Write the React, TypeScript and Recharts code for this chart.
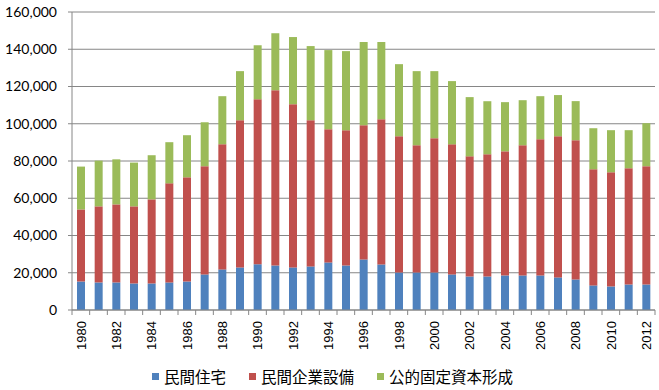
import React from 'react';
import { BarChart, Bar, XAxis, YAxis, CartesianGrid, Legend } from 'recharts';

const years = ['1980','1981','1982','1983','1984','1985','1986','1987','1988','1989','1990','1991','1992','1993','1994','1995','1996','1997','1998','1999','2000','2001','2002','2003','2004','2005','2006','2007','2008','2009','2010','2011','2012'];
const housing = [15300,14800,14800,14250,14250,14800,15300,19100,21800,22850,24500,23900,22850,23400,25550,23900,27150,24450,20150,20150,20150,19100,18000,18000,18550,18550,18550,17500,16400,13200,12650,13700,13700];
const business = [38700,40850,41900,41400,45150,53200,55950,58100,67200,79050,88700,94100,87650,78500,71500,72600,72050,77950,73150,68300,72100,69850,64500,65600,66650,69900,73150,75800,74750,62350,61300,62400,63500];
const publicInv = [23000,24550,24200,23500,23700,22100,22600,23600,25800,26350,29000,30600,36050,39800,42500,42500,44700,41500,38700,39800,36000,33950,31800,28500,26400,24200,23100,22100,21000,22050,22600,20450,23100];
const yTicks = [0,20000,40000,60000,80000,100000,120000,140000,160000];

const names = ['民間住宅','民間企業設備','公的固定資本形成'];
const colors = ['#4F81BD','#C0504D','#9BBB59'];

const data = years.map((y, i) => ({ year: y, a: housing[i], b: business[i], c: publicInv[i] }));

const XTick = (props: any) => {
  const { x, y, payload, index } = props;
  const off = payload.offset || 0;
  const show = parseInt(payload.value, 10) % 2 === 0;
  return (
    <g>
      <line x1={x - off} y1={y} x2={x - off} y2={y + 5} stroke="#868686" />
      {index === years.length - 1 && <line x1={x + off} y1={y} x2={x + off} y2={y + 5} stroke="#868686" />}
      {show && (
        <text transform={`translate(${x},${y + 11}) rotate(-90)`} textAnchor="end" dy="0.36em" fontSize={13} fill="#000" fontFamily="Liberation Sans">
          {payload.value}
        </text>
      )}
    </g>
  );
};

const LegendContent = () => (
  <div style={{ display: 'flex', justifyContent: 'center', alignItems: 'center', height: 24, paddingLeft: 10, fontFamily: '"Noto Sans CJK JP"', fontSize: 15.5, color: '#000' }}>
    {names.map((n, i) => (
      <div key={n} style={{ display: 'flex', alignItems: 'center', marginLeft: i === 0 ? 0 : 23 }}>
        <span style={{ width: 7, height: 7, background: colors[i], display: 'inline-block', marginRight: 5 }} />
        <span style={{ lineHeight: '24px' }}>{n}</span>
      </div>
    ))}
  </div>
);

export default function App() {
  return (
    <div style={{ position: 'absolute', left: 0, top: 0, background: '#fff' }}>
      <BarChart width={659} height={390} data={data} margin={{ top: 12, right: 4, bottom: 2, left: 0 }} barSize={8}>
        <CartesianGrid vertical={false} stroke="#868686" />
        <XAxis dataKey="year" interval={0} height={54} tickSize={0} tickMargin={0} tickLine={false} stroke="#868686" tick={<XTick />} />
        <YAxis width={72} domain={[0, 160000]} ticks={yTicks} tickSize={4} tickMargin={11} stroke="#868686"
          tick={{ fill: '#000', fontSize: 14, fontFamily: 'Lato' }}
          tickFormatter={(v: number) => v.toLocaleString('en-US')} />
        <Legend verticalAlign="bottom" content={<LegendContent />} />
        <Bar dataKey="a" name={names[0]} stackId="s" fill={colors[0]} isAnimationActive={false} />
        <Bar dataKey="b" name={names[1]} stackId="s" fill={colors[1]} isAnimationActive={false} />
        <Bar dataKey="c" name={names[2]} stackId="s" fill={colors[2]} isAnimationActive={false} />
      </BarChart>
    </div>
  );
}
